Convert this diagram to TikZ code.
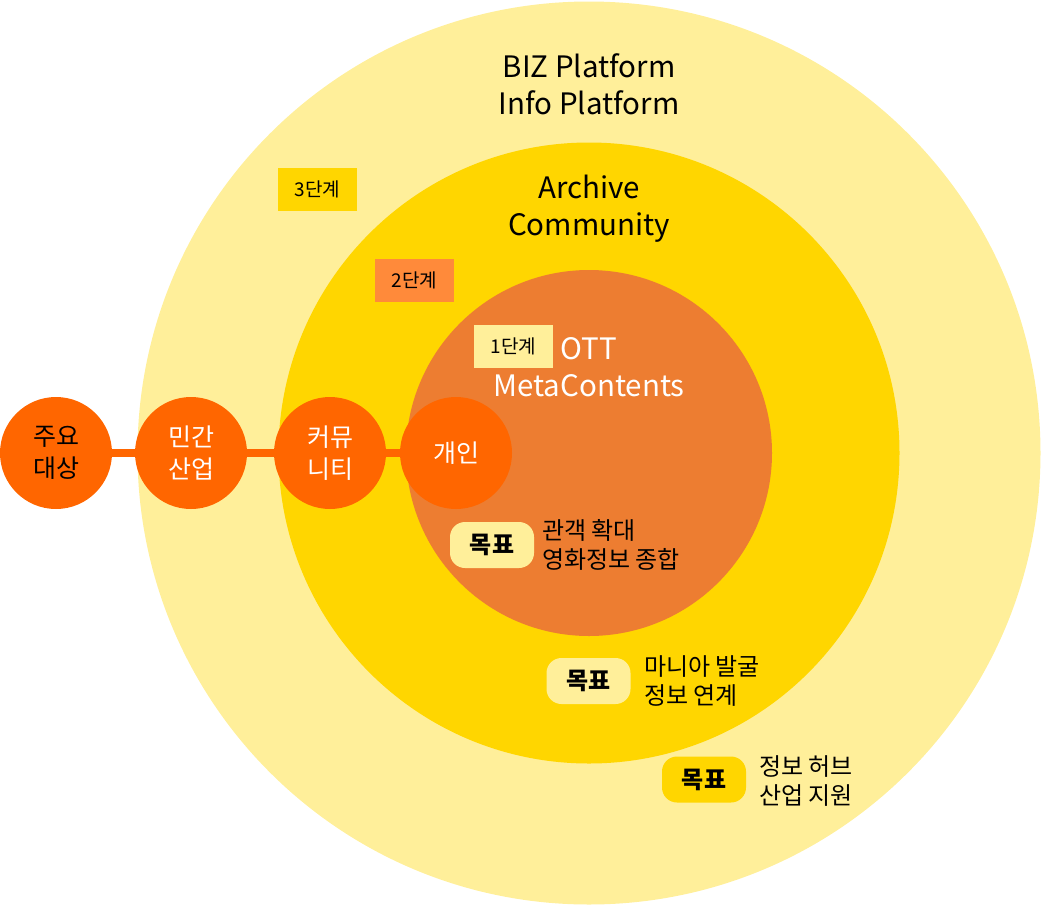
\documentclass[tikz,border=0pt]{standalone}
\usepackage{fontspec}
\setmainfont{Noto Sans CJK KR}
\definecolor{lightY}{HTML}{FFEF9A}
\definecolor{goldY}{HTML}{FFD600}
\definecolor{innerO}{HTML}{ED7D31}
\definecolor{dotO}{HTML}{FF6600}
\definecolor{stepO}{HTML}{FF8A3A}
\begin{document}
\begin{tikzpicture}[x=1pt,y=-1pt,
  dot/.style={circle,fill=dotO,minimum size=112pt,inner sep=0pt,align=center,font=\fontsize{25}{32}\selectfont},
  title/.style={align=center,font=\fontsize{29.5}{37}\selectfont},
  stepbox/.style={minimum width=79pt,minimum height=43pt,inner sep=0pt,font=\fontsize{19}{22}\selectfont},
  goalbox/.style={rounded corners=15pt,minimum width=84pt,minimum height=46pt,inner sep=0pt,font=\fontsize{24}{26}\selectfont\bfseries},
  goaltext/.style={align=left,anchor=west,inner sep=0pt,font=\fontsize{24}{29}\selectfont},
  link/.style={dotO,line width=8pt}]
\useasboundingbox (0,0) rectangle (1041,905);
\coordinate (c) at (589,453);
\fill[lightY] (c) circle[radius=451.5pt];
\fill[goldY] (c) circle[radius=310.5pt];
\fill[innerO] (c) circle[radius=183pt];

\node[title] (t3) at (589,84) {BIZ Platform\\Info Platform};
\node[title] (t2) at (589,209) {Archive\\Community};
\node[title,text=white] (t1) at (589,367) {OTT\\MetaContents};

\node[stepbox,fill=goldY] (s3) at (317.5,189.5) {3단계};
\node[stepbox,fill=stepO] (s2) at (414.5,280.5) {2단계};
\node[stepbox,fill=lightY] (s1) at (513.5,346) {1단계};

\node[dot] (d1) at (56,453) {주요\\대상};
\node[dot,text=white] (d2) at (191,453) {민간\\산업};
\node[dot,text=white] (d3) at (330,453) {커뮤\\니티};
\node[dot,text=white] (d4) at (456,453) {개인};
\draw[link] (d1) -- (d2);
\draw[link] (d2) -- (d3);
\draw[link] (d3) -- (d4);

\node[goalbox,fill=lightY] (g1) at (492,545) {목표};
\node[goaltext] (g1t) at (542,545) {관객 확대\\영화정보 종합};
\node[goalbox,fill=lightY] (g2) at (588.5,681) {목표};
\node[goaltext] (g2t) at (644,681) {마니아 발굴\\정보 연계};
\node[goalbox,fill=goldY] (g3) at (704,779.5) {목표};
\node[goaltext] (g3t) at (759,781) {정보 허브\\산업 지원};
\end{tikzpicture}
\end{document}
